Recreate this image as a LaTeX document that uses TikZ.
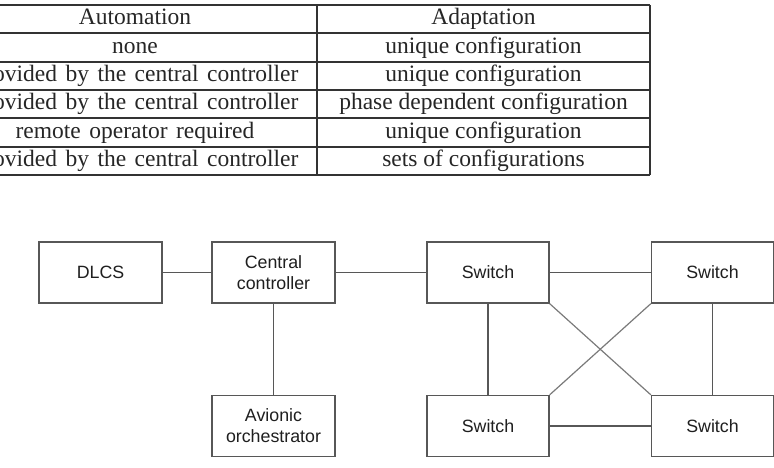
\documentclass[tikz,border=0pt]{standalone}
\usepackage{fontspec}
\setmainfont{Liberation Serif}
\newfontfamily\diagfont{Liberation Sans}
\newcommand{\wsp}{\hspace{0.36em}}
\begin{document}
\begin{tikzpicture}[x=1pt,y=-1pt,
  tabline/.style={draw=black!80,line width=1.1pt},
  tabtext/.style={anchor=base,inner sep=0pt,font=\fontsize{23.5}{28}\selectfont,text=black!85},
  blk/.style={draw=black!66,line width=1.3pt,fill=white,minimum width=122pt,minimum height=61pt,inner sep=0pt,align=center,
    font=\diagfont\fontsize{17.8}{21}\selectfont,text=black!88},
  link/.style={draw=black!66,line width=1.2pt},
  xlink/.style={draw=black!52,line width=1.2pt}]
\useasboundingbox (0,0) rectangle (774,468);
% table
\foreach \yy in {5,33,62,90,118,147,175} {\draw[tabline] (0,\yy) -- (650,\yy);}
\draw[tabline] (317,5) -- (317,175);
\draw[tabline] (650,5) -- (650,175);
\node[tabtext] (h1) at (135,25) {Automation};
\node[tabtext] (h2) at (483.5,25) {Adaptation};
\node[tabtext] (a1) at (135,54) {none};
\node[tabtext] (b1) at (483.5,54) {unique configuration};
\node[tabtext] (a2) at (136,82) {provided\wsp by\wsp the\wsp central\wsp controller};
\node[tabtext] (b2) at (483.5,82) {unique configuration};
\node[tabtext] (a3) at (136,110) {provided\wsp by\wsp the\wsp central\wsp controller};
\node[tabtext] (b3) at (483.5,110) {phase dependent configuration};
\node[tabtext] (a4) at (135,139) {remote\wsp operator\wsp required};
\node[tabtext] (b4) at (483.5,139) {unique configuration};
\node[tabtext] (a5) at (136,167) {provided\wsp by\wsp the\wsp central\wsp controller};
\node[tabtext] (b5) at (483.5,167) {sets of configurations};
% diagram
\node[blk,minimum width=123pt] (dlcs) at (100.5,272.5) {DLCS};
\node[blk,minimum width=123pt] (cc) at (273.5,272.5) {Central\\controller};
\node[blk,minimum width=123pt] (ao) at (273.5,426) {Avionic\\orchestrator};
\node[blk] (s1) at (488,272.5) {Switch};
\node[blk] (s2) at (712.5,272.5) {Switch};
\node[blk] (s3) at (488,426) {Switch};
\node[blk] (s4) at (712.5,426) {Switch};
\draw[link] (dlcs) -- (cc);
\draw[link] (cc) -- (s1);
\draw[link] (cc) -- (ao);
\draw[link] (s1) -- (s2);
\draw[link] (s3) -- (s4);
\draw[link] (s1) -- (s3);
\draw[link] (s2) -- (s4);
\draw[xlink] (s1.south east) -- (s4.north west);
\draw[xlink] (s2.south west) -- (s3.north east);
\end{tikzpicture}
\end{document}
